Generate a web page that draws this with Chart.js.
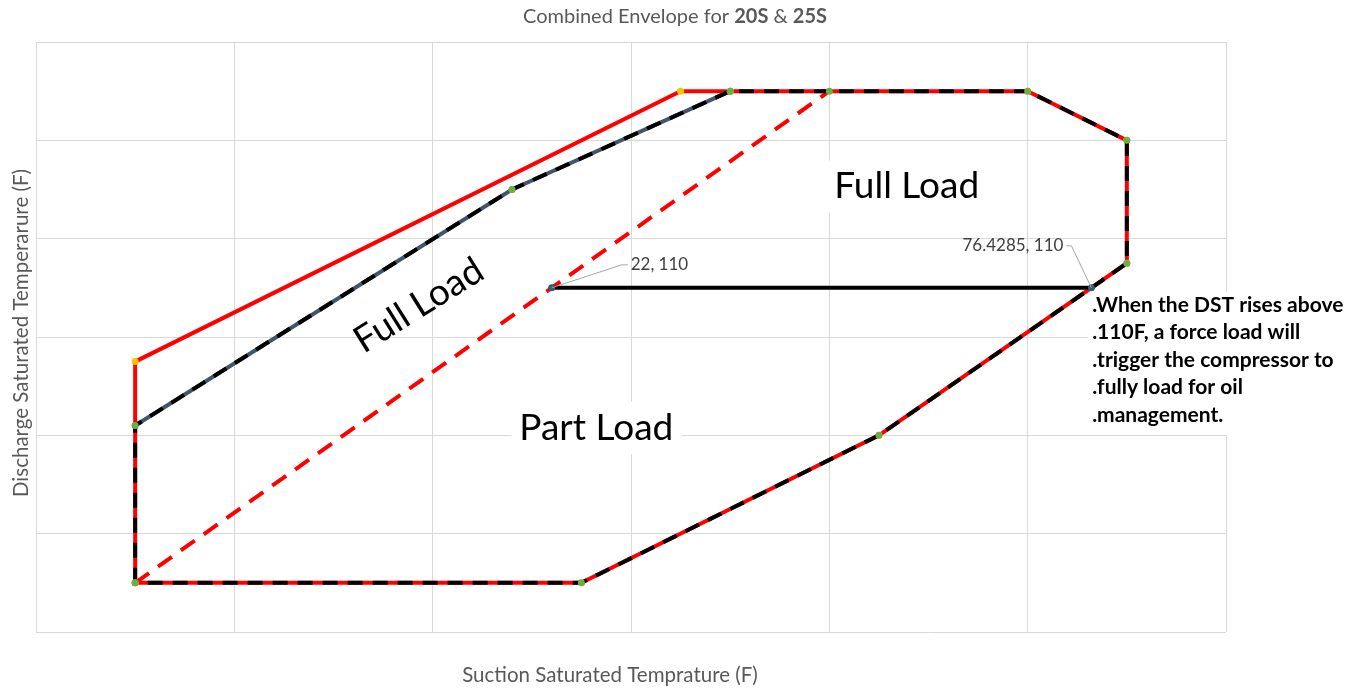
<!DOCTYPE html>
<html>
<head>
<meta charset="utf-8">
<script src="https://cdn.jsdelivr.net/npm/chart.js@4/dist/chart.umd.min.js"></script>
<style>
  body { margin: 0; background: #ffffff; }
  #envelopeChart { display: block; }
</style>
</head>
<body>
<canvas id="envelopeChart" width="1351" height="688"></canvas>
<script>
// Outer envelope (red, solid)
const redEnvX = [-20, -20, 35, 40, 70, 80, 80, 55, 25, -20];
const redEnvY = [50, 95, 150, 150, 150, 140, 115, 80, 50, 50];

// Lower left edge of the second envelope (slate, solid)
const slateEnvX = [-20, 18, 40];
const slateEnvY = [82, 130, 150];

// Combined envelope (black, dashed)
const combinedX = [-20, -20, 18, 40, 50, 70, 80, 80, 55, 25, -20];
const combinedY = [50, 82, 130, 150, 150, 150, 140, 115, 80, 50, 50];

// Part load / full load split (red, dashed)
const splitX = [-20, 50];
const splitY = [50, 150];

// Force load line at DST 110F
const forceX = [22, 76.4285];
const forceY = [110, 110];

// Axis ranges
const xMin = -30, xMax = 90, xStep = 20;
const yMin = 40, yMax = 160, yStep = 20;

function toPoints(xs, ys) {
  return xs.map((x, i) => ({ x: x, y: ys[i] }));
}

const FONT = "Lato, 'Open Sans', sans-serif";
const BIG = "37px " + FONT;

// text blocks placed in data units
const regionLabels = [
  { text: "Full Load", x: 57.8, y: 130.6, angle: 0, box: true },
  { text: "Part Load", x: 26.5, y: 81.5, angle: 0, box: true },
  { text: "Full Load", x: 8.6, y: 106.4, angle: -32, box: false }
];

const noteLines = [
  ".When the DST rises above",
  ".110F, a force load will",
  ".trigger the compressor to",
  ".fully load for oil",
  ".management."
];

// leader offsets (pixels) for the two value labels
const valueLabelOffsets = [
  { dx: 79, dy: -23, align: "left", bend: -9 },
  { dx: -28, dy: -42, align: "right", bend: 8 }
];

const textPlugin = {
  id: "envelopeText",
  beforeDatasetsDraw(chart) {
    const ctx = chart.ctx;
    const xs = chart.scales.x, ys = chart.scales.y;
    ctx.save();
    ctx.fillStyle = "#ffffff";
    ctx.font = BIG;
    regionLabels.forEach(l => {
      if (!l.box) return;
      const w = ctx.measureText(l.text).width;
      ctx.fillRect(xs.getPixelForValue(l.x) - w / 2 - 8, ys.getPixelForValue(l.y) - 26, w + 16, 52);
    });
    // white box behind the note
    const nx = xs.getPixelForValue(76.5);
    const ny = ys.getPixelForValue(110) + 4;
    ctx.fillRect(nx - 4, ny, 262, 143);
    ctx.restore();
  },
  afterDatasetsDraw(chart) {
    const ctx = chart.ctx;
    const xs = chart.scales.x, ys = chart.scales.y;
    const area = chart.chartArea;
    ctx.save();

    // title with bold model names
    const parts = [
      { t: "Combined Envelope for ", b: false },
      { t: "20S", b: true },
      { t: " & ", b: false },
      { t: "25S", b: true }
    ];
    ctx.fillStyle = "#595959";
    ctx.textBaseline = "middle";
    let total = 0;
    parts.forEach(p => {
      ctx.font = (p.b ? "bold " : "") + "20px " + FONT;
      p.w = ctx.measureText(p.t).width;
      total += p.w;
    });
    let tx = 675 - total / 2;
    parts.forEach(p => {
      ctx.font = (p.b ? "bold " : "") + "20px " + FONT;
      ctx.textAlign = "left";
      ctx.fillText(p.t, tx, 17);
      tx += p.w;
    });

    // axis titles
    ctx.font = "20.5px " + FONT;
    ctx.textAlign = "center";
    ctx.fillText("Suction Saturated Temprature (F)", 610, 675);
    ctx.save();
    ctx.translate(21, 333);
    ctx.rotate(-Math.PI / 2);
    ctx.fillText("Discharge Saturated Temperarure (F)", 0, 0);
    ctx.restore();

    // region names
    ctx.fillStyle = "#000000";
    ctx.font = BIG;
    regionLabels.forEach(l => {
      ctx.save();
      ctx.translate(xs.getPixelForValue(l.x), ys.getPixelForValue(l.y));
      ctx.rotate(l.angle * Math.PI / 180);
      ctx.textAlign = "center";
      ctx.fillText(l.text, 0, 0);
      ctx.restore();
    });

    // note about the force load
    ctx.font = "bold 21px " + FONT;
    ctx.textAlign = "left";
    const nx = xs.getPixelForValue(76.5);
    const ny = ys.getPixelForValue(110) + 17;
    noteLines.forEach((line, i) => {
      ctx.fillText(line, nx, ny + i * 27.5);
    });

    // value labels with leader lines
    ctx.font = "17px " + FONT;
    ctx.fillStyle = "#404040";
    forceX.forEach((x, i) => {
      const px = xs.getPixelForValue(x);
      const py = ys.getPixelForValue(forceY[i]);
      const o = valueLabelOffsets[i];
      const lx = px + o.dx;
      const ly = py + o.dy;
      ctx.strokeStyle = "#a6a6a6";
      ctx.lineWidth = 1;
      ctx.beginPath();
      ctx.moveTo(px, py);
      ctx.lineTo(lx + o.bend, ly);
      ctx.lineTo(lx + (o.align === "left" ? -3 : 3), ly);
      ctx.stroke();
      ctx.textAlign = o.align;
      ctx.fillText(x + ", " + forceY[i], lx, ly);
    });
    ctx.restore();
  }
};

const ctx = document.querySelector("#envelopeChart").getContext("2d");
const envelopeChart = new Chart(ctx, {
  type: "scatter",
  data: {
    datasets: [
      {
        label: "Force load",
        data: toPoints(forceX, forceY),
        showLine: true,
        borderColor: "#000000",
        borderWidth: 4,
        pointRadius: 3.5,
        pointBackgroundColor: "#2f5d6e",
        pointBorderWidth: 0,
        order: 1
      },
      {
        label: "Combined",
        data: toPoints(combinedX, combinedY),
        showLine: true,
        borderColor: "#000000",
        borderWidth: 4,
        borderDash: [15, 10],
        pointRadius: 3.5,
        pointBackgroundColor: "#70ad47",
        pointBorderWidth: 0,
        order: 2
      },
      {
        label: "Split",
        data: toPoints(splitX, splitY),
        showLine: true,
        borderColor: "#ff0000",
        borderWidth: 4,
        borderDash: [17, 11],
        pointRadius: 0,
        order: 3
      },
      {
        label: "Slate envelope",
        data: toPoints(slateEnvX, slateEnvY),
        showLine: true,
        borderColor: "#44546a",
        borderWidth: 4,
        pointRadius: 3.5,
        pointBackgroundColor: "#70ad47",
        pointBorderWidth: 0,
        order: 4
      },
      {
        label: "Red envelope",
        data: toPoints(redEnvX, redEnvY),
        showLine: true,
        borderColor: "#ff0000",
        borderWidth: 4,
        pointRadius: 3.5,
        pointBackgroundColor: "#ffc000",
        pointBorderWidth: 0,
        order: 5
      }
    ]
  },
  options: {
    responsive: false,
    animation: false,
    layout: { padding: { left: 36, top: 42, right: 125, bottom: 56 } },
    plugins: {
      legend: { display: false },
      tooltip: { enabled: false },
      title: { display: false }
    },
    scales: {
      x: {
        type: "linear",
        min: xMin,
        max: xMax,
        ticks: { display: false, stepSize: xStep },
        grid: { color: "#d9d9d9", lineWidth: 1, drawTicks: false },
        border: { display: false }
      },
      y: {
        type: "linear",
        min: yMin,
        max: yMax,
        ticks: { display: false, stepSize: yStep },
        grid: { color: "#d9d9d9", lineWidth: 1, drawTicks: false },
        border: { display: false }
      }
    }
  },
  plugins: [textPlugin]
});
</script>
</body>
</html>
